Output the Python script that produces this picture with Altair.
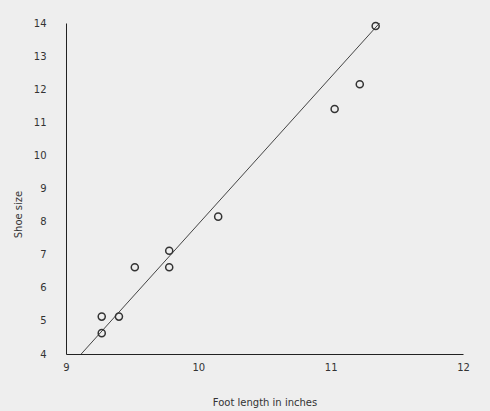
import altair as alt
import pandas as pd

# Foot length (inches) vs. shoe size observations
foot_length = [9.27, 9.27, 9.40, 9.52, 9.78, 9.78, 10.15, 11.03, 11.22, 11.34]
shoe_size = [4.63, 5.13, 5.13, 6.62, 6.62, 7.12, 8.15, 11.40, 12.15, 13.91]

# Trend line endpoints
line_x = [9.115, 11.37]
line_y = [4.0, 14.0]

# Tick values
x_ticks = [9, 10, 11, 12]
y_ticks = [4, 5, 6, 7, 8, 9, 10, 11, 12, 13, 14]

pts = pd.DataFrame({"x": foot_length, "y": shoe_size})
fit = pd.DataFrame({"x": line_x, "y": line_y})

font = "DejaVu Sans"
xscale = alt.Scale(domain=[9, 12], nice=False, zero=False)
yscale = alt.Scale(domain=[4, 14], nice=False, zero=False)

xaxis = alt.Axis(
    title="Foot length in inches", values=x_ticks, format="d", grid=False, ticks=False,
    domainColor="#222222", domainWidth=1, labelPadding=8, labelFont=font,
    labelFontSize=10, labelColor="#333333", titleFont=font, titleFontSize=10,
    titleFontWeight="normal", titleColor="#333333", titleY=51,
    titleBaseline="alphabetic", labelFlush=False, labelOverlap=False,
    tickCount=4,
)
yaxis = alt.Axis(
    title="Shoe size", values=y_ticks, format="d", grid=False, ticks=False,
    domainColor="#222222", domainWidth=1, labelPadding=20, labelFont=font,
    labelFontSize=10, labelColor="#333333", titleFont=font, titleFontSize=10,
    titleFontWeight="normal", titleColor="#333333", titleX=-48, titleY=191,
    titleAngle=-90, titleBaseline="middle", titleAlign="center", labelFlush=False,
    labelOverlap=False, tickCount=11,
)

line = alt.Chart(fit).mark_line(color="#444444", strokeWidth=1, clip=True).encode(
    x=alt.X("x:Q", scale=xscale, axis=xaxis),
    y=alt.Y("y:Q", scale=yscale, axis=yaxis),
)
points = alt.Chart(pts).mark_point(
    shape="circle", filled=False, size=50, strokeWidth=1.5, color="#333333", opacity=1
).encode(
    x=alt.X("x:Q", scale=xscale, axis=xaxis),
    y=alt.Y("y:Q", scale=yscale, axis=yaxis),
)

chart = (line + points).properties(
    width=397, height=331,
    autosize=alt.AutoSizeParams(type="none"),
    padding={"left": 66, "top": 23, "right": 27, "bottom": 57},
    background="#eeeeee",
).configure_view(stroke=None)

chart.save("out.html", embed_options={"renderer": "svg", "actions": False})
